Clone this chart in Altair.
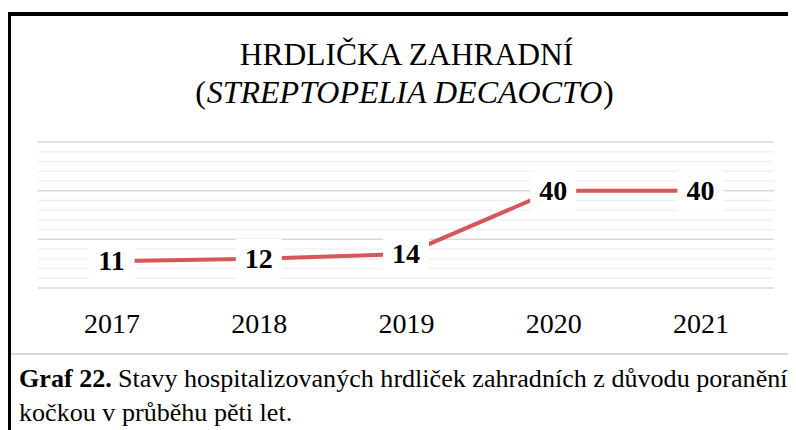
import altair as alt
import pandas as pd

# ---- data ----
years = ["2017", "2018", "2019", "2020", "2021"]
counts = [11, 12, 14, 40, 40]
major_grid = [0, 20, 40, 60]
minor_grid = [4, 8, 12, 16, 24, 28, 32, 36, 44, 48, 52, 56]

title_line1 = "HRDLIČKA ZAHRADNÍ"
title_line2 = "STREPTOPELIA DECAOCTO"
caption_bold = "Graf 22."
caption_rest = "Stavy hospitalizovaných hrdliček zahradních z důvodu poranění"
caption_line2 = "kočkou v průběhu pěti let."

SERIF = "Liberation Serif"
RED = "#d65757"

df = pd.DataFrame({"year": years, "count": counts})
major_df = pd.DataFrame({"v": major_grid})
minor_df = pd.DataFrame({"v": minor_grid})
one = alt.Data(values=[{"k": 1}])

yscale = alt.Scale(domain=[0, 60], nice=False, zero=True)
xscale = alt.Scale(type="point", padding=0.5, domain=years)

minor = alt.Chart(minor_df).mark_rule(color="#f0f0f0", strokeWidth=1.5).encode(
    y=alt.Y("v:Q", scale=yscale, axis=None)
)
major = alt.Chart(major_df).mark_rule(color="#d9d9d9", strokeWidth=1.5).encode(
    y=alt.Y("v:Q", scale=yscale, axis=None)
)

base = alt.Chart(df).encode(
    x=alt.X(
        "year:O",
        scale=xscale,
        title=None,
        axis=alt.Axis(
            labelFont=SERIF,
            labelFontSize=28,
            labelColor="black",
            labelAngle=0,
            labelBaseline="alphabetic",
            labelPadding=44,
            domain=False,
            ticks=False,
            tickSize=0,
            grid=False,
        ),
    ),
    y=alt.Y("count:Q", scale=yscale, axis=None),
)

line = base.mark_line(color=RED, strokeWidth=4)
boxes = base.mark_point(
    shape="M-1.15,-1L1.15,-1L1.15,1L-1.15,1Z",
    size=1600,
    filled=True,
    fill="white",
    opacity=1,
    strokeWidth=0,
)
labels = base.mark_text(
    font=SERIF, fontSize=28, fontWeight="bold", color="black", baseline="middle", dy=1
).encode(text="count:Q")

# frame lines
top_border = alt.Chart(one).mark_rule(color="black", strokeWidth=4).encode(
    x=alt.value(-31), x2=alt.value(752), y=alt.value(-128)
)
left_border = alt.Chart(one).mark_rule(color="black", strokeWidth=4).encode(
    x=alt.value(-29), y=alt.value(-130), y2=alt.value(300)
)
separator = alt.Chart(one).mark_rule(color="#d9d9d9", strokeWidth=2).encode(
    x=alt.value(-27), x2=alt.value(752), y=alt.value(212)
)

# title: first line upright, second line italic name in upright parentheses
t1 = alt.Chart(one).mark_text(
    font=SERIF, fontSize=31.5, color="black", baseline="alphabetic", align="center"
).encode(text=alt.value(title_line1), x=alt.value(368.5), y=alt.value(-77))
t2 = alt.Chart(one).mark_text(
    font=SERIF, fontSize=32, fontStyle="italic", color="black", baseline="alphabetic", align="center"
).encode(text=alt.value(title_line2), x=alt.value(366.5), y=alt.value(-39))
p_open = alt.Chart(one).mark_text(
    font=SERIF, fontSize=32, color="black", baseline="alphabetic", align="right"
).encode(text=alt.value("("), x=alt.value(168), y=alt.value(-39))
p_close = alt.Chart(one).mark_text(
    font=SERIF, fontSize=32, color="black", baseline="alphabetic", align="left"
).encode(text=alt.value(")"), x=alt.value(565), y=alt.value(-39))

# caption
cap1 = alt.Chart(one).mark_text(
    font=SERIF, fontSize=26.1, fontWeight="bold", color="black", baseline="alphabetic", align="left"
).encode(text=alt.value(caption_bold), x=alt.value(-19), y=alt.value(245))
cap2 = alt.Chart(one).mark_text(
    font=SERIF, fontSize=26.1, color="black", baseline="alphabetic", align="left"
).encode(text=alt.value(caption_rest), x=alt.value(80), y=alt.value(245))
cap3 = alt.Chart(one).mark_text(
    font=SERIF, fontSize=26.1, color="black", baseline="alphabetic", align="left"
).encode(text=alt.value(caption_line2), x=alt.value(-19), y=alt.value(279))

chart = (
    alt.layer(
        minor, major, line, boxes, labels,
        top_border, left_border, separator,
        t1, t2, p_open, p_close, cap1, cap2, cap3,
    )
    .resolve_scale(y="shared")
    .properties(
        width=736,
        height=146,
        autosize=alt.AutoSizeParams(type="none"),
        padding={"left": 30, "top": 134, "right": 14, "bottom": 142},
        background="white",
    )
    .configure_view(stroke=None)
)

chart.save("out.html", embed_options={"renderer": "svg", "actions": False})
